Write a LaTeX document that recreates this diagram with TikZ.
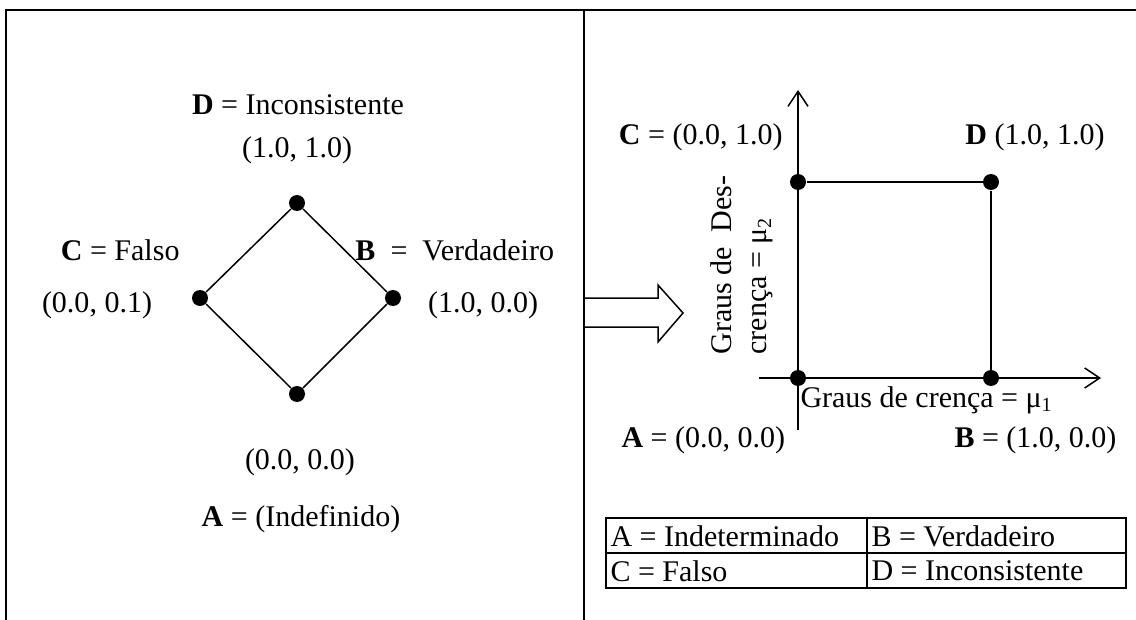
\documentclass[tikz,border=0pt]{standalone}
\usepackage{fontspec}
\setmainfont{Liberation Serif}
\usetikzlibrary{arrows.meta}

\begin{document}
\begin{tikzpicture}[x=0.4pt,y=-0.4pt,
  dot/.style={circle,fill=black,inner sep=0pt,minimum size=6.4pt},
  lbl/.style={font=\fontsize{12}{14}\selectfont,inner sep=0pt},
  ln/.style={line width=0.6pt},
  fr/.style={line width=0.8pt},
  ax/.style={line width=0.6pt,-{Straight Barb[length=6pt,width=8pt]}}]
  \useasboundingbox (0,0) rectangle (1136,620);
  % frame
  \coordinate (fTL) at (6,10);   \coordinate (fBL) at (6,620);
  \coordinate (fTM) at (584,10); \coordinate (fBM) at (584,620);
  \coordinate (fTR) at (1136,10);
  \draw[fr] (fBL)--(fTL)--(fTR);
  \draw[fr] (fTM)--(fBM);
  % left: lattice
  \node[dot] (dT) at (297,203) {};
  \node[dot] (dL) at (200,298) {};
  \node[dot] (dR) at (393,298) {};
  \node[dot] (dB) at (297,394) {};
  \draw[ln] (dT)--(dR)--(dB)--(dL)--(dT);
  \node[lbl] (lD)  at (298,105) {\textbf{D} = Inconsistente};
  \node[lbl] (lDv) at (297,150) {(1.0, 1.0)};
  \node[lbl,anchor=east] (lC) at (180,250) {\textbf{C} = Falso};
  \node[lbl] (lCv) at (97,305) {(0.0, 0.1)};
  \node[lbl,anchor=west] (lB) at (355,250) {\textbf{B}\ \ =\ \ Verdadeiro};
  \node[lbl] (lBv) at (483,305) {(1.0, 0.0)};
  \node[lbl] (lAv) at (300,462) {(0.0, 0.0)};
  \node[lbl] (lA)  at (301,519) {\textbf{A} = (Indefinido)};
  % block arrow
  \draw[ln] (584,298)--(658,298)--(658,285)--(683,313)--(658,342)--(658,327)--(584,327);
  % right: unit square
  \coordinate (ay0) at (798,430); \coordinate (ay1) at (798,90);
  \coordinate (ax0) at (759,378); \coordinate (ax1) at (1101,378);
  \draw[ax] (ay0)--(ay1);
  \draw[ax] (ax0)--(ax1);
  \node[dot] (sA) at (798,378) {};
  \node[dot] (sB) at (991,378) {};
  \node[dot] (sC) at (798,182) {};
  \node[dot] (sD) at (991,182) {};
  \draw[ln] (sC)--(sD)--(sB);
  \node[lbl,anchor=east] (rC) at (783,137) {\textbf{C} = (0.0, 1.0)};
  \node[lbl,anchor=east] (rD) at (1105,137) {\textbf{D} (1.0, 1.0)};
  \node[lbl,anchor=west] (rA) at (621,440) {\textbf{A} = (0.0, 0.0)};
  \node[lbl,anchor=east] (rB) at (1117,440) {\textbf{B} = (1.0, 0.0)};
  \node[lbl,anchor=west] (gx) at (800,400) {Graus de crença = μ\textsubscript{1}};
  \node[lbl,rotate=90,align=left] (gy) at (742,265) {Graus de\ \ Des-\\crença = μ\textsubscript{2}};
  % legend table
  \coordinate (t1) at (606,518); \coordinate (t2) at (1126,588);
  \coordinate (tm0) at (867,518); \coordinate (tm1) at (867,588);
  \coordinate (th0) at (606,553); \coordinate (th1) at (1126,553);
  \draw[ln] (t1) rectangle (t2);
  \draw[ln] (tm0)--(tm1);
  \draw[ln] (th0)--(th1);
  \node[lbl,anchor=west] (tA) at (610,536) {A = Indeterminado};
  \node[lbl,anchor=west] (tB) at (871,536) {B = Verdadeiro};
  \node[lbl,anchor=west] (tC) at (610,571) {C = Falso};
  \node[lbl,anchor=west] (tD) at (871,571) {D = Inconsistente};
\end{tikzpicture}
\end{document}
